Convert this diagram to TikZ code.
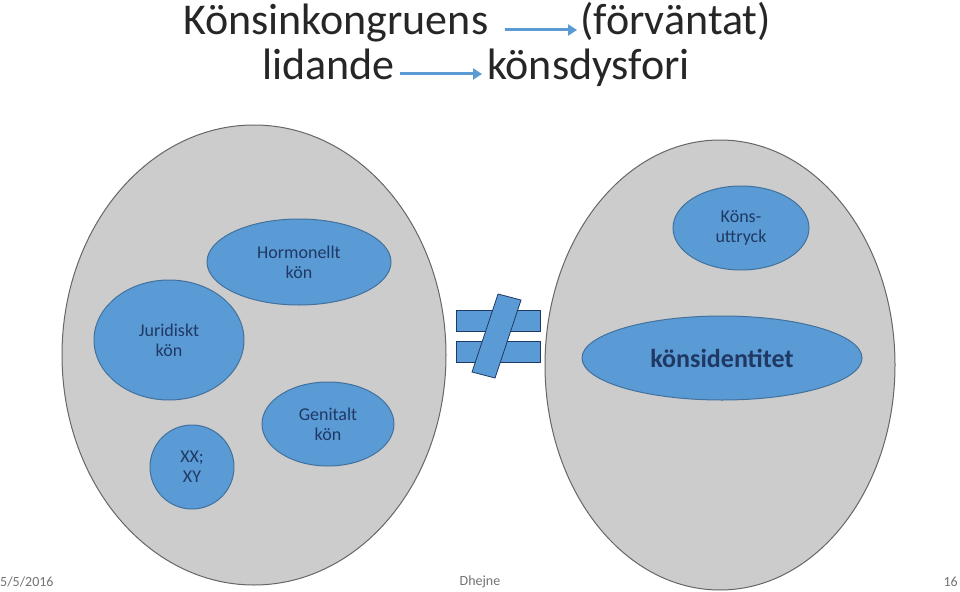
\documentclass[tikz,border=0pt]{standalone}
\usepackage{fontspec}
\setmainfont{Carlito}
\usetikzlibrary{shapes.geometric,arrows.meta}
\definecolor{bl}{HTML}{5B9BD5}
\definecolor{bd}{HTML}{41719C}
\definecolor{tx}{HTML}{1F3864}
\begin{document}
\begin{tikzpicture}[x=1pt,y=-1pt,
  big/.style={draw=gray!80!black,line width=1pt,fill=black!20},
  blob/.style={draw=bd,line width=1pt,fill=bl},
  lbl/.style={text=tx,font=\fontsize{18}{20}\selectfont,align=center},
  ttl/.style={font=\fontsize{44}{46}\selectfont,inner sep=0pt,anchor=base west,text=black!85},
  tarr/.style={draw=bl,line width=3pt,-{Triangle[length=9pt,width=11pt]}},
  foot/.style={font=\fontsize{14}{16}\selectfont,text=black!55,inner sep=0pt}]
\useasboundingbox (0,0) rectangle (960,591);
% title
\node[ttl] (t1) at (183,35) {Könsinkongruens};
\node[ttl] (t2) at (580,35) {(förväntat)};
\node[ttl] (t3) at (262,80) {lidande};
\node[ttl] (t4) at (487,80) {könsdysfori};
\coordinate (a1s) at (505,30); \coordinate (a1e) at (577,30);
\coordinate (a2s) at (400,74); \coordinate (a2e) at (482,74);
\draw[tarr] (a1s) -- (a1e);
\draw[tarr] (a2s) -- (a2e);
% big ellipses
\draw[big] (254,355) ellipse[x radius=192,y radius=230];
\draw[big] (720,365) ellipse[x radius=175,y radius=225];
% left blobs
\draw[blob] (299,262) ellipse[x radius=92,y radius=43];
\node[lbl] (hk) at (299,262) {Hormonellt\\kön};
\draw[blob] (169,340) ellipse[x radius=75,y radius=60];
\node[lbl] (jk) at (169,340) {Juridiskt\\kön};
\draw[blob] (328,424) ellipse[x radius=66,y radius=42];
\node[lbl] (gk) at (328,424) {Genitalt\\kön};
\draw[blob] (192,467) ellipse[x radius=42,y radius=42];
\node[lbl] (xx) at (192,467) {XX;\\XY};
% right blobs
\draw[blob] (741,228) ellipse[x radius=68,y radius=42];
\node[lbl] (ku) at (741,228) {Köns-\\uttryck};
\draw[blob] (722,358) ellipse[x radius=140,y radius=42];
\node[text=tx,font=\bfseries\fontsize{26}{28}\selectfont] (ki) at (722,358) {könsidentitet};
% not-equal sign
\fill[bl,draw=tx,line width=0.8pt] (456,310) -- (540,310) -- (540,331) -- (456,331) -- cycle;
\fill[bl,draw=tx,line width=0.8pt] (456,341) -- (540,341) -- (540,362) -- (456,362) -- cycle;
\fill[bl,draw=tx,line width=0.8pt] (498,294) -- (521,300) -- (495,378) -- (472,372) -- cycle;
% footer
\node[foot,anchor=west] (f1) at (0,582) {5/5/2016};
\node[foot] (f2) at (480,582) {Dhejne};
\node[foot,anchor=east] (f3) at (958,582) {16};
\end{tikzpicture}
\end{document}
